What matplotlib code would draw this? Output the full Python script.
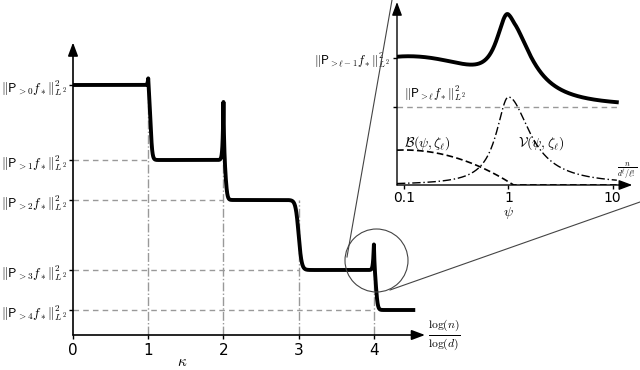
import numpy as np
import matplotlib
matplotlib.use("Agg")
import matplotlib.pyplot as plt
from matplotlib.patches import Ellipse
from matplotlib.lines import Line2D

plt.rcParams['mathtext.fontset'] = 'cm'
plt.rcParams['font.family'] = ['DejaVu Sans']

# main panel: levels ||P_{>k} f*||^2 and the spikes before each drop
kappa_ticks = [0, 1, 2, 3, 4]
levels = [1.0, 0.70, 0.54, 0.26, 0.10]
spikes = [0.05, 0.25, 0.0, 0.12]
level_labels = [r'$\|\mathsf{P}_{>%d} f_*\|_{L^2}^2$' % k for k in range(5)]
kappa_end = 4.55

# inset panel
psi_ticks = [0.1, 1, 10]
psi_tick_labels = ['0.1', '1', '10']
p_prev = 127     # ||P_{>l-1} f*||^2
p_l = 78         # ||P_{>l} f*||^2
bias_0 = 35      # B at psi -> 0
var_peak = 88    # V at psi = 1
psi_lim = (10 ** -1.07, 10 ** 1.12)
psi_end = 11


def main_curve(x):
    y = np.full_like(x, levels[-1])
    for i, k in enumerate(kappa_ticks[1:]):
        before, after = levels[i], levels[i + 1]
        shift = 0.03 if spikes[i] > 0 else 0.0
        w = 0.012 if spikes[i] > 0 else 0.02
        y += (before - after) / (1 + np.exp((x - k - shift) / w))
        y += spikes[i] * np.exp(-np.abs(x - k) / 0.01)
    return y


fig = plt.figure(figsize=(6.4, 3.7), dpi=100)
ax = fig.add_axes([73 / 640, 35 / 370, (419 - 73) / 640, 290 / 370])
ax.set_xlim(0, 4.6)
ax.set_ylim(0, 1.16)
for s in ax.spines.values():
    s.set_visible(False)

x = np.linspace(0, kappa_end, 4000)
ax.plot(x, main_curve(x), color='black', lw=2.8, zorder=5, solid_capstyle='butt')

for k in kappa_ticks[1:]:
    ax.plot([0, k], [levels[k], levels[k]], color='#999999', lw=1.0, ls=(0, (4, 3)), zorder=1)
    ax.plot([k, k], [0, levels[k - 1]], color='#999999', lw=1.0, ls='-.', zorder=1)

arrow = dict(arrowstyle='-|>,head_length=0.8,head_width=0.3', color='black', lw=1.2,
             shrinkA=0, shrinkB=0)
ax.annotate('', xy=(4.68, 0), xytext=(0, 0), arrowprops=arrow, annotation_clip=False)
ax.annotate('', xy=(0, 1.17), xytext=(0, 0), arrowprops=arrow, annotation_clip=False)

ax.set_xticks(kappa_ticks)
ax.set_xticklabels([str(k) for k in kappa_ticks], fontsize=11)
ax.set_yticks(levels)
ax.set_yticklabels(level_labels, fontsize=9.5)
ax.tick_params(axis='x', length=3, width=1, pad=3)
ax.tick_params(axis='y', length=3, width=1, pad=1)
ax.text(1.45, -0.105, r'$\kappa$', fontsize=11, ha='center', va='center')
ax.text(4.72, 0.0, r'$\frac{\log(n)}{\log(d)}$', fontsize=12, ha='left', va='center')

# magnifier circle around the spike at kappa = 4
circ = Ellipse((376.5 / 640, 1 - 260.5 / 370), 63 / 640, 63 / 370, transform=fig.transFigure,
               fill=False, color='#444444', lw=0.8)
fig.add_artist(circ)
fig.add_artist(Line2D([347 / 640, 392 / 640], [1 - 257 / 370, 1.0], transform=fig.transFigure,
                      color='#444444', lw=0.8))
fig.add_artist(Line2D([390 / 640, 640 / 640], [1 - 290 / 370, 1 - 202 / 370], transform=fig.transFigure,
                      color='#444444', lw=0.8))

# inset
ins = fig.add_axes([397 / 640, 185 / 370, (625 - 397) / 640, 180 / 370])
ins.set_xscale('log')
ins.set_xlim(*psi_lim)
ins.set_ylim(0, 180)
ins.patch.set_alpha(0)
for s in ins.spines.values():
    s.set_visible(False)

psi = np.logspace(np.log10(psi_lim[0]), np.log10(psi_end), 800)
lp = np.log10(psi)
bias = np.clip(bias_0 * (1 - ((lp + 1) / 1.05) ** 2), 0, None)
width = np.where(lp < 0, 0.14, 0.25)
var = var_peak / (1 + (lp / width) ** 2)
risk = p_l + 1.4 * bias + var

ins.plot(psi, risk, color='black', lw=2.8)
ins.plot(psi, bias, color='black', lw=1.2, ls=(0, (4, 2)))
ins.plot(psi, var, color='black', lw=1.0, ls=(0, (6, 2, 1, 2)))
ins.plot([psi_lim[0], psi_end], [p_l, p_l], color='#999999', lw=1.0, ls=(0, (4, 3)))

arrow_in = dict(arrow, lw=1.0)
ins.annotate('', xy=(10 ** 1.19, 0), xytext=(psi_lim[0], 0), arrowprops=arrow_in, annotation_clip=False)
ins.annotate('', xy=(psi_lim[0], 183), xytext=(psi_lim[0], 0), arrowprops=arrow_in, annotation_clip=False)

ins.set_xticks(psi_ticks)
ins.set_xticklabels(psi_tick_labels, fontsize=10)
ins.minorticks_off()
ins.set_yticks([p_prev, p_l])
ins.set_yticklabels([r'$\|\mathsf{P}_{>\ell-1} f_*\|_{L^2}^2$', ''], fontsize=9)
ins.tick_params(axis='x', length=3, width=1, pad=1)
ins.tick_params(axis='y', length=3, width=1, pad=2)
ins.text(0.1, p_l + 4, r'$\|\mathsf{P}_{>\ell} f_*\|_{L^2}^2$', fontsize=9, ha='left', va='bottom')
ins.text(0.1, 42, r'$\mathcal{B}(\psi,\zeta_\ell)$', fontsize=10, ha='left', va='center')
ins.text(1.25, 42, r'$\mathcal{V}(\psi,\zeta_\ell)$', fontsize=10, ha='left', va='center')
ins.text(10 ** 1.14, 4, r'$\frac{n}{d^\ell/\ell!}$', fontsize=8, ha='center', va='bottom')
ins.text(1, -28, r'$\psi$', fontsize=10, ha='center', va='center')

fig.savefig('out.png', dpi=100)
